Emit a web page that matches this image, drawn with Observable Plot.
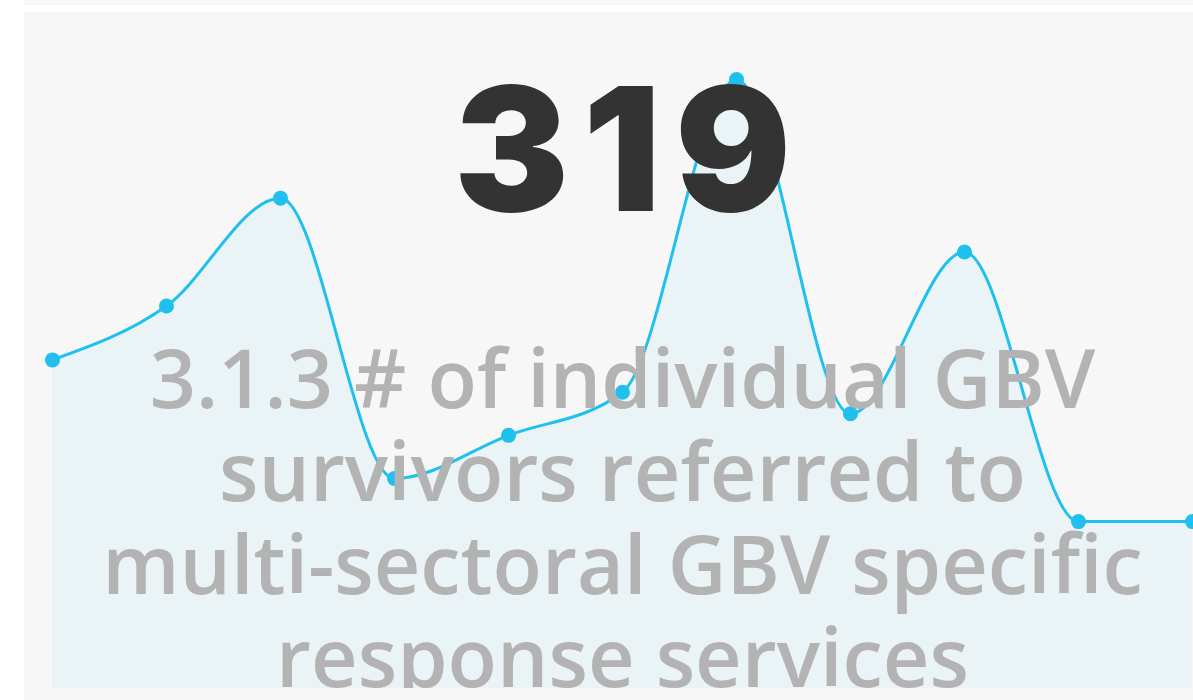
<!DOCTYPE html>
<html>
<head>
<meta charset="utf-8">
<script src="https://cdn.jsdelivr.net/npm/d3@7"></script>
<script src="https://cdn.jsdelivr.net/npm/@observablehq/plot@0.6"></script>
<style>
  html, body { margin: 0; padding: 0; background: #ffffff; overflow: hidden; width: 1193px; height: 700px; }
  #strip { position: absolute; left: 24px; top: 0; width: 1200px; height: 5px; background: #f7f7f7; }
  #panel { position: absolute; left: 24px; top: 12px; width: 1200px; height: 700px; background: #f7f7f7; }
  #panel svg { position: absolute; left: 0; top: 0; }
</style>
</head>
<body>
<div id="strip"></div>
<div id="panel"></div>
<script>
// ---- data ----
const periods = [1, 2, 3, 4, 5, 6, 7, 8, 9, 10, 11];
const values = [29, 34, 44, 18, 22, 26, 55, 24, 39, 14, 14];
const kpiValue = "319";
const titleLines = [
  "3.1.3 # of individual GBV",
  "survivors referred to",
  "multi-sectoral GBV specific",
  "response services"
];

const yDomain = [-1.48, 61.22];
const data = periods.map((p, i) => ({period: p, value: values[i]}));
const lineColor = "#20c0ee";

const chart = Plot.plot({
  width: 1200,
  height: 676,
  marginLeft: 28,
  marginRight: 32,
  marginTop: 0,
  marginBottom: 0,
  style: {overflow: "hidden", maxWidth: "none", background: "transparent"},
  x: {axis: null, domain: d3.extent(periods)},
  y: {axis: null, domain: yDomain},
  marks: [
    Plot.areaY(data, {x: "period", y1: () => yDomain[0], y2: "value", curve: "monotone-x", fill: "#eaf3f6"}),
    Plot.lineY(data, {x: "period", y: "value", curve: "monotone-x", stroke: lineColor, strokeWidth: 3}),
    Plot.dot(data, {x: "period", y: "value", r: 7.5, fill: lineColor, stroke: "none"}),
    Plot.text([titleLines.join("\n")], {
      text: d => d, frameAnchor: "top", lineAnchor: "top", textAnchor: "middle",
      dy: 329, fontSize: 81, lineHeight: 93 / 81, fill: "#b3b3b3",
      fontFamily: "'Open Sans', 'Noto Sans', sans-serif", fontWeight: 600
    }),
    Plot.text([kpiValue], {
      text: d => d, frameAnchor: "top", lineAnchor: "top", textAnchor: "middle",
      dy: 76, dx: 7, fontSize: 172, fill: "#333333",
      fontFamily: "Inter, 'Liberation Sans', sans-serif", fontWeight: 900
    })
  ]
});
chart.querySelectorAll("text").forEach(t => {
  if (t.textContent === kpiValue) t.style.letterSpacing = "14px";
});
document.getElementById("panel").appendChild(chart);
</script>
</body>
</html>
